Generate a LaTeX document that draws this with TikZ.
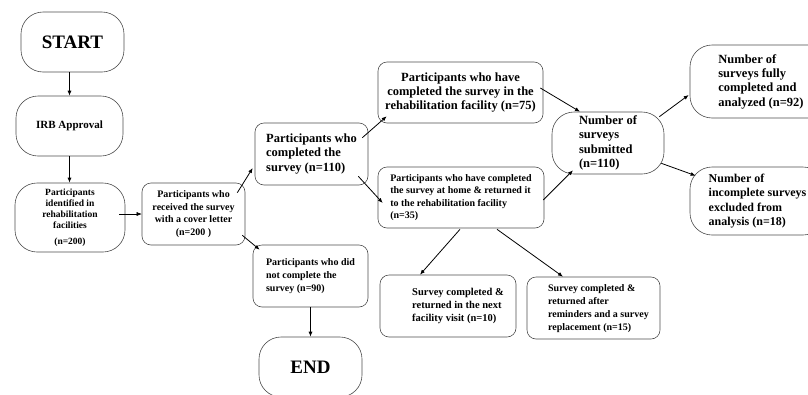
\documentclass[tikz,border=0pt]{standalone}
\usepackage{fontspec}
\setmainfont{Liberation Serif}
\usetikzlibrary{arrows.meta}
\tikzset{
  box/.style={draw=black!70, line width=0.6pt, rounded corners=9pt, align=left, inner sep=0pt,
    font=\bfseries\fontsize{10}{12.5}\selectfont},
  capsule/.style={box, rounded corners=22pt, align=center},
  bigtext/.style={font=\bfseries\fontsize{12.5}{14.3}\selectfont},
  link/.style={-{Latex[length=5pt,width=4pt]}, line width=0.8pt},
}
\begin{document}
\begin{tikzpicture}[x=1pt,y=-1pt]
\useasboundingbox (0,0) rectangle (808,394);
\clip (0,0) rectangle (808,394);
% left column
\node[capsule, minimum width=103pt, minimum height=60pt, font=\bfseries\fontsize{19}{22}\selectfont] (start) at (72.5,42) {START};
\node[capsule, minimum width=107pt, minimum height=60pt, font=\bfseries\fontsize{11}{13}\selectfont] (irb) at (69.5,126) {IRB Approval};
\node[capsule, minimum width=110pt, minimum height=69pt, font=\bfseries\fontsize{9.5}{11}\selectfont] (ident) at (70,217.5)
  {Participants\\identified in\\rehabilitation\\facilities\\[5pt](n=200)};
\node[box, align=center, minimum width=103pt, minimum height=62pt] (recv) at (193.5,214)
  {Participants who\\received the survey\\with a cover letter\\(n=200 )};
% middle
\node[box, bigtext, minimum width=113pt, minimum height=62pt] (comp) at (311.5,154)
  {Participants who\\completed the\\survey (n=110)};
\node[box, minimum width=115pt, minimum height=62pt, font=\bfseries\fontsize{10}{13}\selectfont] (notc) at (310.5,276)
  {Participants who did\\not complete the\\survey (n=90)};
\node[capsule, minimum width=103pt, minimum height=60pt, font=\bfseries\fontsize{19}{22}\selectfont] (endn) at (310.5,367) {END};
\node[box, bigtext, align=center, minimum width=165pt, minimum height=61pt] (fac) at (460.5,92.5)
  {Participants who have\\completed the survey in the\\rehabilitation facility (n=75)};
\node[box, minimum width=166pt, minimum height=61pt] (home) at (461,197.5)
  {Participants who have completed\\the survey at home \& returned it\\to the rehabilitation facility\\(n=35)};
\node[box, minimum width=136pt, minimum height=62pt, font=\bfseries\fontsize{10.5}{13}\selectfont] (next) at (448,306)
  {\begin{tabular}{@{\hspace{20pt}}l@{}}Survey completed \&\\returned in the next\\facility visit (n=10)\end{tabular}};
\node[box, minimum width=133pt, minimum height=62pt, font=\bfseries\fontsize{10}{13}\selectfont] (remind) at (593.5,308)
  {\begin{tabular}{@{\hspace{10pt}}l@{}}Survey completed \&\\returned after\\reminders and a survey\\replacement (n=15)\end{tabular}};
% right
\node[capsule, bigtext, align=left, minimum width=112pt, minimum height=62pt] (sub) at (608,143)
  {Number of\\surveys\\submitted\\(n=110)};
\node[capsule, bigtext, align=left, minimum width=142pt, minimum height=73pt] (full) at (761,81.5)
  {Number of\\surveys fully\\completed and\\analyzed (n=92)};
\node[capsule, align=left, minimum width=135pt, minimum height=68pt, font=\bfseries\fontsize{12}{14.3}\selectfont] (incomp) at (757.5,201)
  {Number of\\incomplete surveys\\excluded from\\analysis (n=18)};
% connectors
\draw[link] (start.south -| irb.north) -- (irb.north);
\draw[link] (irb.south) -- (irb.south |- ident.north);
\draw[link, line width=0.5pt] ([xshift=-6pt]recv.west -| ident.east) -- (recv.west);
\draw[link] ([shift={(-8,10)}]recv.north east) -- ([shift={(-2,14)}]comp.west);
\draw[link] ([shift={(-3,-10)}]recv.south east) -- ([shift={(7,5)}]notc.north west);
\draw[link] ([shift={(-6,15)}]comp.north east) -- ([shift={(9,-7)}]fac.south west);
\draw[link] ([shift={(-10,-9)}]comp.south east) -- ([shift={(5,5.5)}]home.west);
\draw[link] ([shift={(-1,1)}]home.south) -- ([shift={(-28,0)}]next.north);
\draw[link] ([shift={(36,1)}]home.south) -- ([shift={(-30.5,0)}]remind.north);
\draw[link] ([shift={(-3,-4.5)}]fac.east) -- ([shift={(-28,0)}]sub.north);
\draw[link] ([shift={(-1,2.5)}]home.east) -- ([shift={(-35,-4)}]sub.south);
\draw[link] ([shift={(-5,5)}]sub.north east) -- ([shift={(-1,13.5)}]full.west);
\draw[link] ([shift={(-3,-11)}]sub.south east) -- ([shift={(6,9)}]incomp.north west);
\draw[link] (notc.south) -- (endn.north);
\end{tikzpicture}
\end{document}
